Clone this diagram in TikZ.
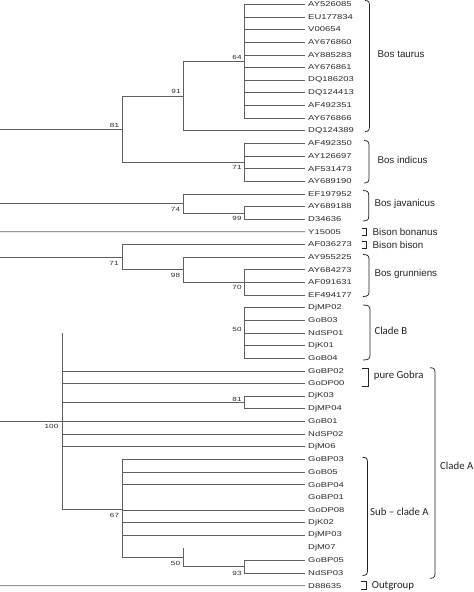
\documentclass[tikz,border=0pt]{standalone}
\usepackage{fontspec}
\setmainfont{Liberation Sans}
\newfontfamily\leaffont[FakeStretch=1.35]{Liberation Sans}
\newfontfamily\cladefont[Ligatures=TeX]{Carlito}
\definecolor{brgray}{RGB}{95,95,95}
\definecolor{txtgray}{RGB}{40,40,40}
\definecolor{bkgray}{RGB}{35,35,35}
\newcommand{\parbrace}[4]{%
  \draw[brk] (#1,#3) .. controls ({#2-1},#3) and (#2,{#3+1.5}) .. (#2,{#3+5})
    -- (#2,{#4-5}) .. controls (#2,{#4-1.5}) and ({#2-1},#4) .. (#1,#4);}
\newcommand{\sqbrack}[3]{%
  \draw[brk] (#1,{#3-3.7}) -- ({#1+5.2},{#3-3.7}) -- ({#1+5.2},{#3+3.7}) -- (#1,{#3+3.7});}
\begin{document}
\begin{tikzpicture}[x=1pt,y=-1pt,
  br/.style={draw=brgray,line width=0.7pt},
  brk/.style={draw=bkgray,line width=0.75pt},
  leaf/.style={anchor=west,inner xsep=3pt,inner ysep=0.5pt,text=txtgray,
    font=\leaffont\fontsize{7}{8}\selectfont},
  bs/.style={inner sep=0pt,text=txtgray,font=\leaffont\fontsize{6}{7}\selectfont},
  bos/.style={anchor=west,inner sep=0pt,text=bkgray,font=\fontsize{9.8}{11}\selectfont},
  clade/.style={anchor=west,inner sep=0pt,text=bkgray,font=\cladefont\fontsize{10.8}{12}\selectfont}]
\useasboundingbox (0,0) rectangle (474,592);
% leaves
\foreach \nm [count=\i from 0] in {AY526085,EU177834,V00654,AY676860,AY885283,AY676861,
  DQ186203,DQ124413,AF492351,AY676866,DQ124389,AF492350,AY126697,AF531473,AY689190,
  EF197952,AY689188,D34636,Y15005,AF036273,AY955225,AY684273,AF091631,EF494177,
  DjMP02,GoB03,NdSP01,DjK01,GoB04,GoBP02,GoDP00,DjK03,DjMP04,GoB01,NdSP02,DjM06,
  GoBP03,GoB05,GoBP04,GoBP01,GoDP08,DjK02,DjMP03,DjM07,GoBP05,NdSP03,D88635}
  \node[leaf] (\nm) at (305,{4.3+12.64*\i}) {\nm};
% internal nodes
\coordinate (nT64) at (244,61.18);
\coordinate (nT91) at (183,95.94);
\coordinate (nI71) at (244,162.3);
\coordinate (n81) at (122,129.12);
\coordinate (rootT) at (0,129.12);
\coordinate (nJ99) at (244,212.86);
\coordinate (nJ74) at (183,203.38);
\coordinate (rootJ) at (0,203.38);
\coordinate (rootY) at (0,231.82);
\coordinate (nG70) at (244,282.38);
\coordinate (nG98) at (183,269.74);
\coordinate (nG71) at (122,257.1);
\coordinate (rootG) at (0,257.1);
\coordinate (nB50) at (244,332.94);
\coordinate (nD81) at (244,402.46);
\coordinate (nS93) at (244,566.78);
\coordinate (nS50) at (183,557.3);
\coordinate (nS67) at (122,509.5);
\coordinate (n100) at (62,421.8);
\coordinate (root100) at (0,421.8);
\coordinate (rootO) at (0,585.74);
% Bos taurus / indicus
\foreach \nm in {AY526085,EU177834,V00654,AY676860,AY885283,AY676861,DQ186203,DQ124413,AF492351,AY676866}
  \draw[br] (nT64) |- (\nm.west);
\draw[br] (nT91) |- (nT64);
\draw[br] (nT91) |- (DQ124389.west);
\foreach \nm in {AF492350,AY126697,AF531473,AY689190}
  \draw[br] (nI71) |- (\nm.west);
\draw[br] (n81) |- (nT91);
\draw[br] (n81) |- (nI71);
\draw[br] (rootT) -- (n81);
% javanicus
\draw[br] (nJ99) |- (AY689188.west);
\draw[br] (nJ99) |- (D34636.west);
\draw[br] (nJ74) |- (EF197952.west);
\draw[br] (nJ74) |- (nJ99);
\draw[br] (rootJ) -- (nJ74);
% bison bonanus
\draw[br] (rootY) -- (Y15005.west);
% grunniens
\foreach \nm in {AY684273,AF091631,EF494177}
  \draw[br] (nG70) |- (\nm.west);
\draw[br] (nG98) |- (AY955225.west);
\draw[br] (nG98) |- (nG70);
\draw[br] (nG71) |- (AF036273.west);
\draw[br] (nG71) |- (nG98);
\draw[br] (rootG) -- (nG71);
% clade B
\foreach \nm in {DjMP02,GoB03,NdSP01,DjK01,GoB04}
  \draw[br] (nB50) |- (\nm.west);
% clade A
\draw[br] (nD81) |- (DjK03.west);
\draw[br] (nD81) |- (DjMP04.west);
\draw[br] (nS93) |- (GoBP05.west);
\draw[br] (nS93) |- (NdSP03.west);
\draw[br] (nS50) -- (nS50 |- DjM07.west);
\draw[br] (nS50) |- (nS93);
\foreach \nm in {GoBP03,GoB05,GoBP04,GoDP08,DjK02,DjMP03}
  \draw[br] (nS67) |- (\nm.west);
\draw[br] (nS67) |- (nS50);
\draw[br] (n100) -- (n100 |- nB50);
\foreach \nm in {GoBP02,GoDP00,GoB01,NdSP02,DjM06}
  \draw[br] (n100) |- (\nm.west);
\draw[br] (n100) |- (nD81);
\draw[br] (n100) |- (nS67);
\draw[br] (root100) -- (n100);
% outgroup
\draw[br] (rootO) -- (D88635.west);
% bootstrap values
\node[bs] (b64) at ([xshift=-7pt,yshift=4pt]nT64) {64};
\node[bs] (b91) at ([xshift=-7pt,yshift=4.3pt]nT91) {91};
\node[bs] (b81) at ([xshift=-7.5pt,yshift=4pt]n81) {81};
\node[bs] (b71a) at ([xshift=-7pt,yshift=-5pt]nI71) {71};
\node[bs] (b74) at ([xshift=-7.5pt,yshift=-6pt]nJ74) {74};
\node[bs] (b99) at ([xshift=-7pt,yshift=-5.5pt]nJ99) {99};
\node[bs] (b71b) at ([xshift=-8pt,yshift=-6pt]nG71) {71};
\node[bs] (b98) at ([xshift=-7.5pt,yshift=-6pt]nG98) {98};
\node[bs] (b70) at ([xshift=-7pt,yshift=-5.5pt]nG70) {70};
\node[bs] (b50a) at ([xshift=-7pt,yshift=4pt]nB50) {50};
\node[bs] (b81b) at ([xshift=-7pt,yshift=3.5pt]nD81) {81};
\node[bs] (b100) at ([xshift=-10.5pt,yshift=-5pt]n100) {100};
\node[bs] (b67) at ([xshift=-7.5pt,yshift=-6pt]nS67) {67};
\node[bs] (b50b) at ([xshift=-7.5pt,yshift=-6.5pt]nS50) {50};
\node[bs] (b93) at ([xshift=-7pt,yshift=-6.5pt]nS93) {93};
% brackets
\parbrace{365}{369.5}{0.5}{131.5}
\parbrace{364}{369}{140.5}{183}
\parbrace{363}{368.7}{190.5}{221}
\parbrace{363}{369}{254.5}{296.5}
\parbrace{363}{370}{305}{360}
\parbrace{362.5}{367.5}{457.3}{575.5}
\parbrace{430}{435}{367.7}{578.3}
\draw[brk] (362,368.3) -- (368,368.3) -- (368,386) -- (362,386);
\sqbrack{361.5}{0}{231.8}
\sqbrack{361.5}{0}{244.9}
\sqbrack{361}{0}{585.5}
% group labels
\node[bos] (lTaurus) at (377.5,54.3) {Bos taurus};
\node[bos] (lIndicus) at (377.3,159.5) {Bos indicus};
\node[bos] (lJav) at (374.3,204) {Bos javanicus};
\node[bos] (lBon) at (372.5,231.7) {Bison bonanus};
\node[bos] (lBis) at (372.5,245) {Bison bison};
\node[bos] (lGrun) at (374.3,274.3) {Bos grunniens};
\node[clade] (lCladeB) at (374.3,330.7) {Clade B};
\node[clade] (lPure) at (373.7,375.7) {pure Gobra};
\node[clade] (lSub) at (370,512) {Sub – clade A};
\node[clade] (lCladeA) at (440,466) {Clade A};
\node[clade] (lOut) at (371.7,585.7) {Outgroup};
\end{tikzpicture}
\end{document}
